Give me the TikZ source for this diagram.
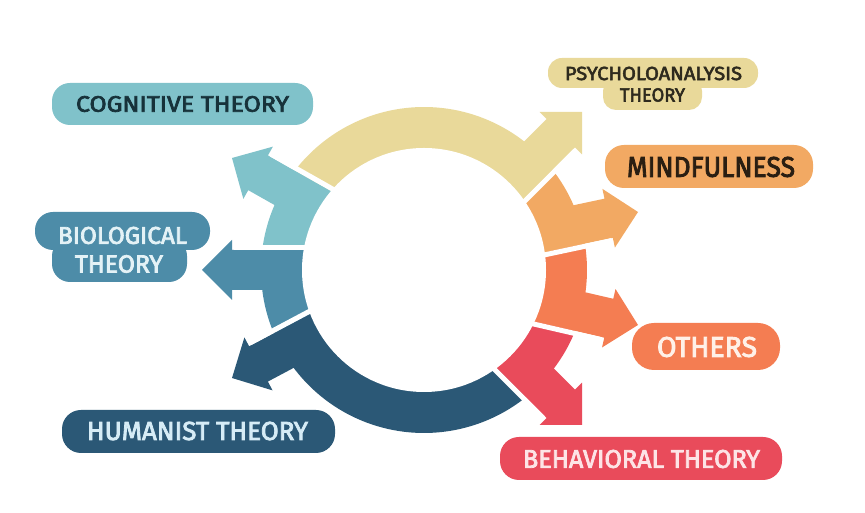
\documentclass[tikz,border=0pt]{standalone}
\usepackage{fontspec}
\usepackage{graphicx}
\newfontfamily\labfont[FakeBold=3]{Fira Sans}
\definecolor{cYel}{HTML}{E9D99A}
\definecolor{cMin}{HTML}{F2A963}
\definecolor{cOth}{HTML}{F47D52}
\definecolor{cRed}{HTML}{E94B5B}
\definecolor{cDbl}{HTML}{2B5876}
\definecolor{cBlu}{HTML}{4D8CA8}
\definecolor{cLbl}{HTML}{80C2CA}
\definecolor{tCog}{HTML}{17323A}
\definecolor{tBio}{HTML}{E4F2F6}
\definecolor{tHum}{HTML}{D6ECF6}
\definecolor{tPsy}{HTML}{2E2A1E}
\definecolor{tMin}{HTML}{2A1E12}
\definecolor{tOth}{HTML}{FFF1E8}
\definecolor{tBeh}{HTML}{FDE4E6}
\tikzset{
  labbox/.style={fill=#1, rounded corners=18pt, inner sep=0pt},
  gapline/.style={white, line width=5pt},
}
\newcommand{\ringsec}[3]{\fill[#3] (#1:110) -- (#1:163) arc[start angle=#1, end angle=#2, radius=163] -- (#2:110) arc[start angle=#2, end angle=#1, radius=110] -- cycle;}
\newcommand{\ringarrow}[3]{\begin{scope}[shift={#1},rotate=#2]\fill[#3] (0,0) -- (-30,30) -- (-30,20) -- (-170,20) -- (-170,-20) -- (-30,-20) -- (-30,-30) -- cycle;\end{scope}}
\newcommand{\ringgap}[2]{\begin{scope}[shift={#1},rotate=#2]\draw[gapline] (-32,-22.5) -- (-170,-22.5);\end{scope}}
\newcommand{\mylbl}[3]{\resizebox{#1pt}{#2pt}{\labfont #3}}
\begin{document}
\begin{tikzpicture}[x=1pt,y=1pt]
\useasboundingbox (0,0) rectangle (865,513);
\fill[white] (0,0) rectangle (865,513);
% ring sectors
\begin{scope}[shift={(424,243)}]
 \ringsec{38.4}{144.4}{cYel}
 \ringsec{142.4}{175}{cLbl}
 \ringsec{172.95}{204.8}{cBlu}
 \ringsec{202.8}{310.7}{cDbl}
 \ringsec{308.7}{340}{cRed}
 \ringsec{338}{371.3}{cOth}
 \ringsec{9.25}{40.5}{cMin}
\end{scope}
% arrows
\ringarrow{(582,401)}{45}{cYel}
\ringarrow{(638,301)}{12}{cMin}
\ringarrow{(638,188)}{-13}{cOth}
\ringarrow{(582,88)}{-45}{cRed}
\ringarrow{(232,135)}{208}{cDbl}
\ringarrow{(202,243)}{180}{cBlu}
\ringarrow{(232,355)}{150.5}{cLbl}
% gaps
\ringgap{(582,401)}{45}
\ringgap{(638,301)}{12}
\ringgap{(638,188)}{-13}
\ringgap{(582,88)}{-45}
\ringgap{(232,135)}{208}
\ringgap{(202,243)}{180}
\ringgap{(232,355)}{150.5}
\fill[white] (424,243) circle[radius=122];
% labels
\node[labbox=cLbl, minimum width=261pt, minimum height=42pt, text=tCog] (cog) at (182.5,409) {\mylbl{213}{15.7}{COGNITIVE THEORY}};
\node[labbox=cBlu, minimum width=175pt, minimum height=38pt] (bioA) at (122.5,282) {};
\node[labbox=cBlu, minimum width=135pt, minimum height=44pt] (bioB) at (119.5,253) {};
\node[text=tBio, inner sep=0pt] (bioT1) at (122.5,277.5) {\mylbl{129}{17}{BIOLOGICAL}};
\node[text=tBio, inner sep=0pt] (bioT2) at (119,249) {\mylbl{88}{17.5}{THEORY}};
\node[labbox=cDbl, rounded corners=19pt, minimum width=273pt, minimum height=43pt] (humB) at (198.5,81.5) {};
\node[text=tHum, inner sep=0pt] (hum) at (197.5,82) {\mylbl{221}{18.3}{HUMANIST THEORY}};
\node[labbox=cYel, rounded corners=14pt, minimum width=210pt, minimum height=30pt] (psyA) at (653,440) {};
\node[labbox=cYel, rounded corners=13pt, minimum width=99pt, minimum height=32pt] (psyB) at (652.5,419) {};
\node[text=tPsy, inner sep=0pt] (psyT1) at (653.5,439.5) {\mylbl{177}{13.3}{PSYCHOLOANALYSIS}};
\node[text=tPsy, inner sep=0pt] (psyT2) at (652.5,418) {\mylbl{65}{13.3}{THEORY}};
\node[labbox=cMin, rounded corners=19pt, minimum width=208pt, minimum height=43pt] (minB) at (709,346.5) {};
\node[text=tMin, inner sep=0pt] (min) at (711,346) {\mylbl{168}{20}{MINDFULNESS}};
\node[labbox=cOth, rounded corners=22pt, minimum width=148pt, minimum height=47pt] (othB) at (706,166.5) {};
\node[text=tOth, inner sep=0pt] (oth) at (707,166) {\mylbl{100}{20}{OTHERS}};
\node[labbox=cRed, rounded corners=19pt, minimum width=282pt, minimum height=43pt] (behB) at (641,54.5) {};
\node[text=tBeh, inner sep=0pt] (beh) at (641.5,54) {\mylbl{237}{18}{BEHAVIORAL THEORY}};
\end{tikzpicture}
\end{document}
